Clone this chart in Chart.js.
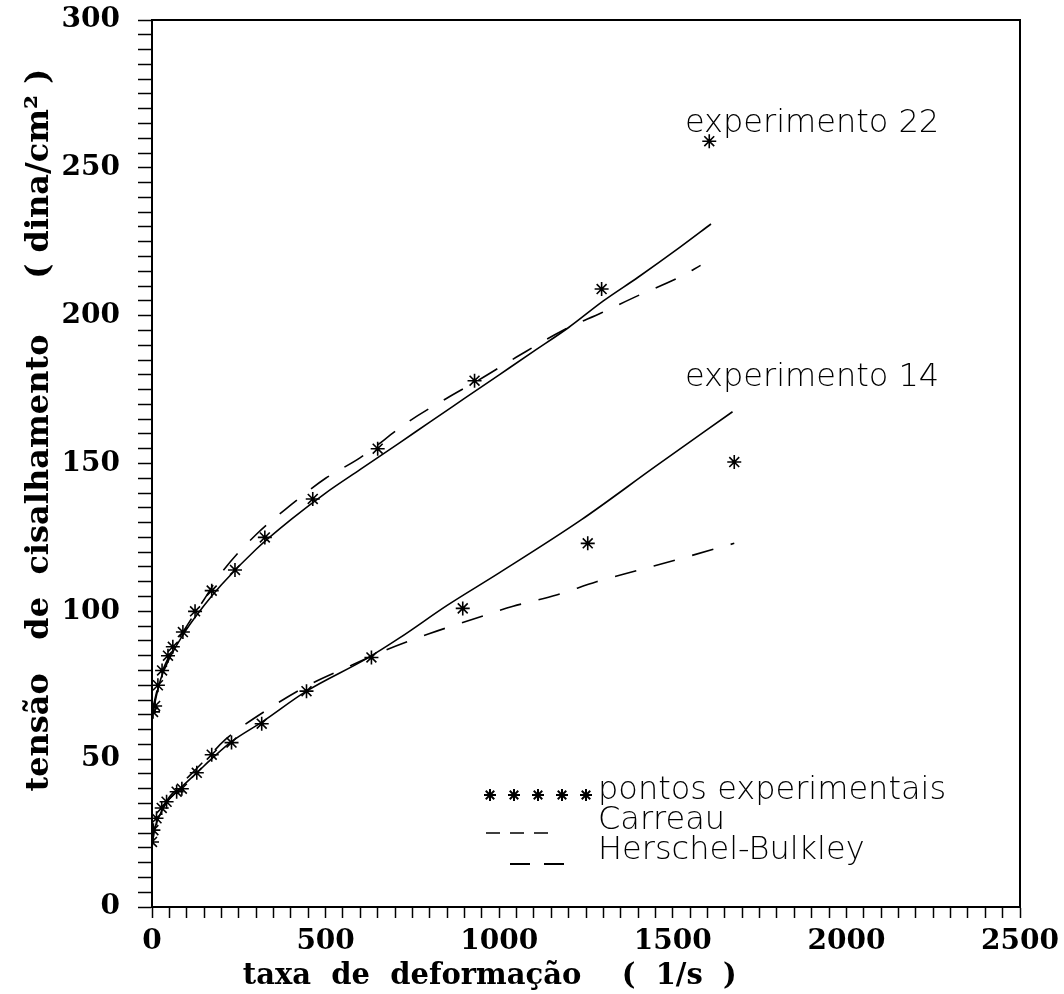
<!DOCTYPE html>
<html>
<head>
<meta charset="utf-8">
<script src="https://cdn.jsdelivr.net/npm/chart.js@4/dist/chart.umd.min.js"></script>
<style>
  body { margin: 0; background: #fff; }
  #wrap { width: 1064px; height: 994px; }
</style>
</head>
<body>
<div id="wrap"><canvas id="chart"></canvas></div>
<script>
'use strict'

// experimento 22 - pontos experimentais
var exp22Rate   = [3, 9, 17, 29, 46, 60, 89, 124, 172, 239, 325, 463, 650, 929, 1295, 1605]
var exp22Stress = [66, 68, 75, 80, 85, 88, 93, 100, 107, 114, 125, 138, 155, 178, 209, 259]

// experimento 22 - Carreau
var carreau22Rate   = [0, 10, 25, 50, 100, 150, 200, 300, 400, 500, 600, 713, 800, 900, 1000, 1100, 1200, 1300, 1400, 1519, 1610]
var carreau22Stress = [64, 70, 77, 84, 94, 102, 109, 121, 131, 140, 148, 157, 164, 172, 180, 188, 196, 205, 213, 223, 231]

// experimento 22 - Herschel-Bulkley
var hb22Rate   = [0, 25, 50, 100, 150, 200, 300, 400, 500, 600, 737, 848, 952, 1050, 1183, 1295, 1404, 1519, 1580]
var hb22Stress = [66, 78, 85, 95, 104, 113, 126, 136, 145, 152, 164, 172, 179, 186, 195, 201, 207, 213, 217]

// experimento 14 - pontos experimentais
var exp14Rate   = [0, 4, 13, 28, 42, 71, 86, 129, 172, 229, 316, 445, 632, 895, 1255, 1677]
var exp14Stress = [22, 26, 30, 33.5, 35.6, 39, 40, 45.4, 51.5, 55.6, 62, 73, 84.4, 101, 123, 150.5]

// experimento 14 - Carreau
var carreau14Rate   = [0, 5, 15, 40, 80, 130, 180, 230, 316, 445, 618, 713, 850, 1000, 1237, 1450, 1672]
var carreau14Stress = [20, 25, 29, 35, 40, 45.5, 51, 56, 62.5, 73, 84, 91, 102, 113, 131, 149, 167.5]

// experimento 14 - Herschel-Bulkley
var hb14Rate   = [0, 5, 15, 40, 80, 130, 180, 215, 349, 450, 560, 675, 800, 924, 1040, 1165, 1280, 1404, 1528, 1677]
var hb14Stress = [20, 25, 29, 35.5, 41, 47, 53, 57, 68, 75, 81, 87, 92.5, 97.3, 101.7, 105.5, 110, 114, 118, 123]

var xTickMax = 2500
var yTickMax = 300

var legendLabels = ['pontos experimentais', 'Carreau', 'Herschel-Bulkley']
var curveLabels = [
  { text: 'experimento 22', x: 1535, y: 265 },
  { text: 'experimento 14', x: 1535, y: 179 }
]

function toPoints(xs, ys) {
  return xs.map(function(x, i) { return { x: x, y: ys[i] } })
}

var serifFont = { family: 'DejaVu Serif', size: 28, weight: 'bold' }
var thinFont = '200 32px "DejaVu Sans"'

function markerSet(xs, ys) {
  return {
    data: toPoints(xs, ys),
    showLine: false,
    pointStyle: 'star',
    pointRadius: 7,
    pointBorderWidth: 1.6,
    pointBorderColor: '#000',
    pointBackgroundColor: '#000'
  }
}

function lineSet(xs, ys, dash) {
  return {
    data: toPoints(xs, ys),
    showLine: true,
    pointRadius: 0,
    borderColor: '#000',
    borderWidth: 1.6,
    borderDash: dash,
    cubicInterpolationMode: 'monotone'
  }
}

var extrasPlugin = {
  id: 'extras',
  afterDraw: function(chart) {
    var ctx = chart.ctx
    var area = chart.chartArea
    var xs = chart.scales.x
    var ys = chart.scales.y
    ctx.save()
    ctx.strokeStyle = '#000'
    ctx.lineWidth = 2
    ctx.strokeRect(area.left, area.top, area.right - area.left, area.bottom - area.top)

    ctx.fillStyle = '#000'
    ctx.font = thinFont
    ctx.textBaseline = 'middle'
    ctx.textAlign = 'left'
    curveLabels.forEach(function(l) {
      ctx.fillText(l.text, xs.getPixelForValue(l.x), ys.getPixelForValue(l.y))
    })

    // legenda
    var lx = area.left + 446
    var ly = area.bottom - 116
    var gap = 30
    ctx.fillText(legendLabels[0], lx, ly)
    ctx.fillText(legendLabels[1], lx, ly + gap)
    ctx.fillText(legendLabels[2], lx, ly + 2 * gap)
    for (var i = 0; i < 5; i++) {
      Chart.helpers.drawPoint(ctx, { pointStyle: 'star', radius: 6, borderWidth: 1.5 }, lx - 108 + i * 24, ly + 4)
    }
    ctx.lineWidth = 1.4
    ctx.beginPath()
    ctx.setLineDash([14, 10])
    ctx.moveTo(lx - 112, ly + gap + 12)
    ctx.lineTo(lx - 44, ly + gap + 12)
    ctx.stroke()
    ctx.lineWidth = 2
    ctx.setLineDash([20, 14])
    ctx.beginPath()
    ctx.moveTo(lx - 88, ly + 2 * gap + 13)
    ctx.lineTo(lx - 22, ly + 2 * gap + 13)
    ctx.stroke()
    ctx.restore()
  }
}

var ctx = document.getElementById('chart').getContext('2d')
var chart = new Chart(ctx, {
  type: 'scatter',
  data: {
    datasets: [
      markerSet(exp22Rate, exp22Stress),
      lineSet(carreau22Rate, carreau22Stress, []),
      lineSet(hb22Rate, hb22Stress, [22, 18]),
      markerSet(exp14Rate, exp14Stress),
      lineSet(carreau14Rate, carreau14Stress, []),
      lineSet(hb14Rate, hb14Stress, [22, 18])
    ]
  },
  options: {
    responsive: true,
    maintainAspectRatio: false,
    animation: false,
    layout: { padding: { top: 20, right: 44, left: 0, bottom: 0 } },
    plugins: { legend: { display: false }, tooltip: { enabled: false } },
    scales: {
      x: {
        type: 'linear',
        min: 0,
        max: xTickMax,
        afterFit: function(s) {
          s.height = 87
          s.paddingLeft = 0
          s.paddingRight = 0
        },
        border: { display: true, color: '#000', width: 2 },
        grid: { drawOnChartArea: false, color: '#000', tickLength: 11, tickWidth: 1.5 },
        ticks: {
          stepSize: 50,
          autoSkip: false,
          maxRotation: 0,
          padding: 7,
          color: '#000',
          font: serifFont,
          callback: function(v) { return v % 500 === 0 ? String(v) : '' }
        },
        title: {
          display: true,
          align: 'start',
          text: '         taxa  de  deformação    (  1/s  )',
          color: '#000',
          font: { family: 'DejaVu Serif', size: 29, weight: 'bold' },
          padding: { top: 0, bottom: 0 }
        }
      },
      y: {
        type: 'linear',
        min: 0,
        max: yTickMax,
        afterFit: function(s) {
          s.width = 152
          s.paddingTop = 0
          s.paddingBottom = 0
        },
        border: { display: true, color: '#000', width: 2 },
        grid: { drawOnChartArea: false, color: '#000', tickLength: 14, tickWidth: 1.5 },
        ticks: {
          stepSize: 5,
          autoSkip: false,
          padding: 18,
          color: '#000',
          font: serifFont,
          callback: function(v) { return v % 50 === 0 ? String(v) : '' }
        },
        title: {
          display: true,
          text: '      tensão   de  cisalhamento     ( dina/cm² )',
          color: '#000',
          font: { family: 'DejaVu Serif', size: 32, weight: 'bold' },
          padding: { top: 20, bottom: 0 }
        }
      }
    }
  },
  plugins: [extrasPlugin]
})
</script>
</body>
</html>
